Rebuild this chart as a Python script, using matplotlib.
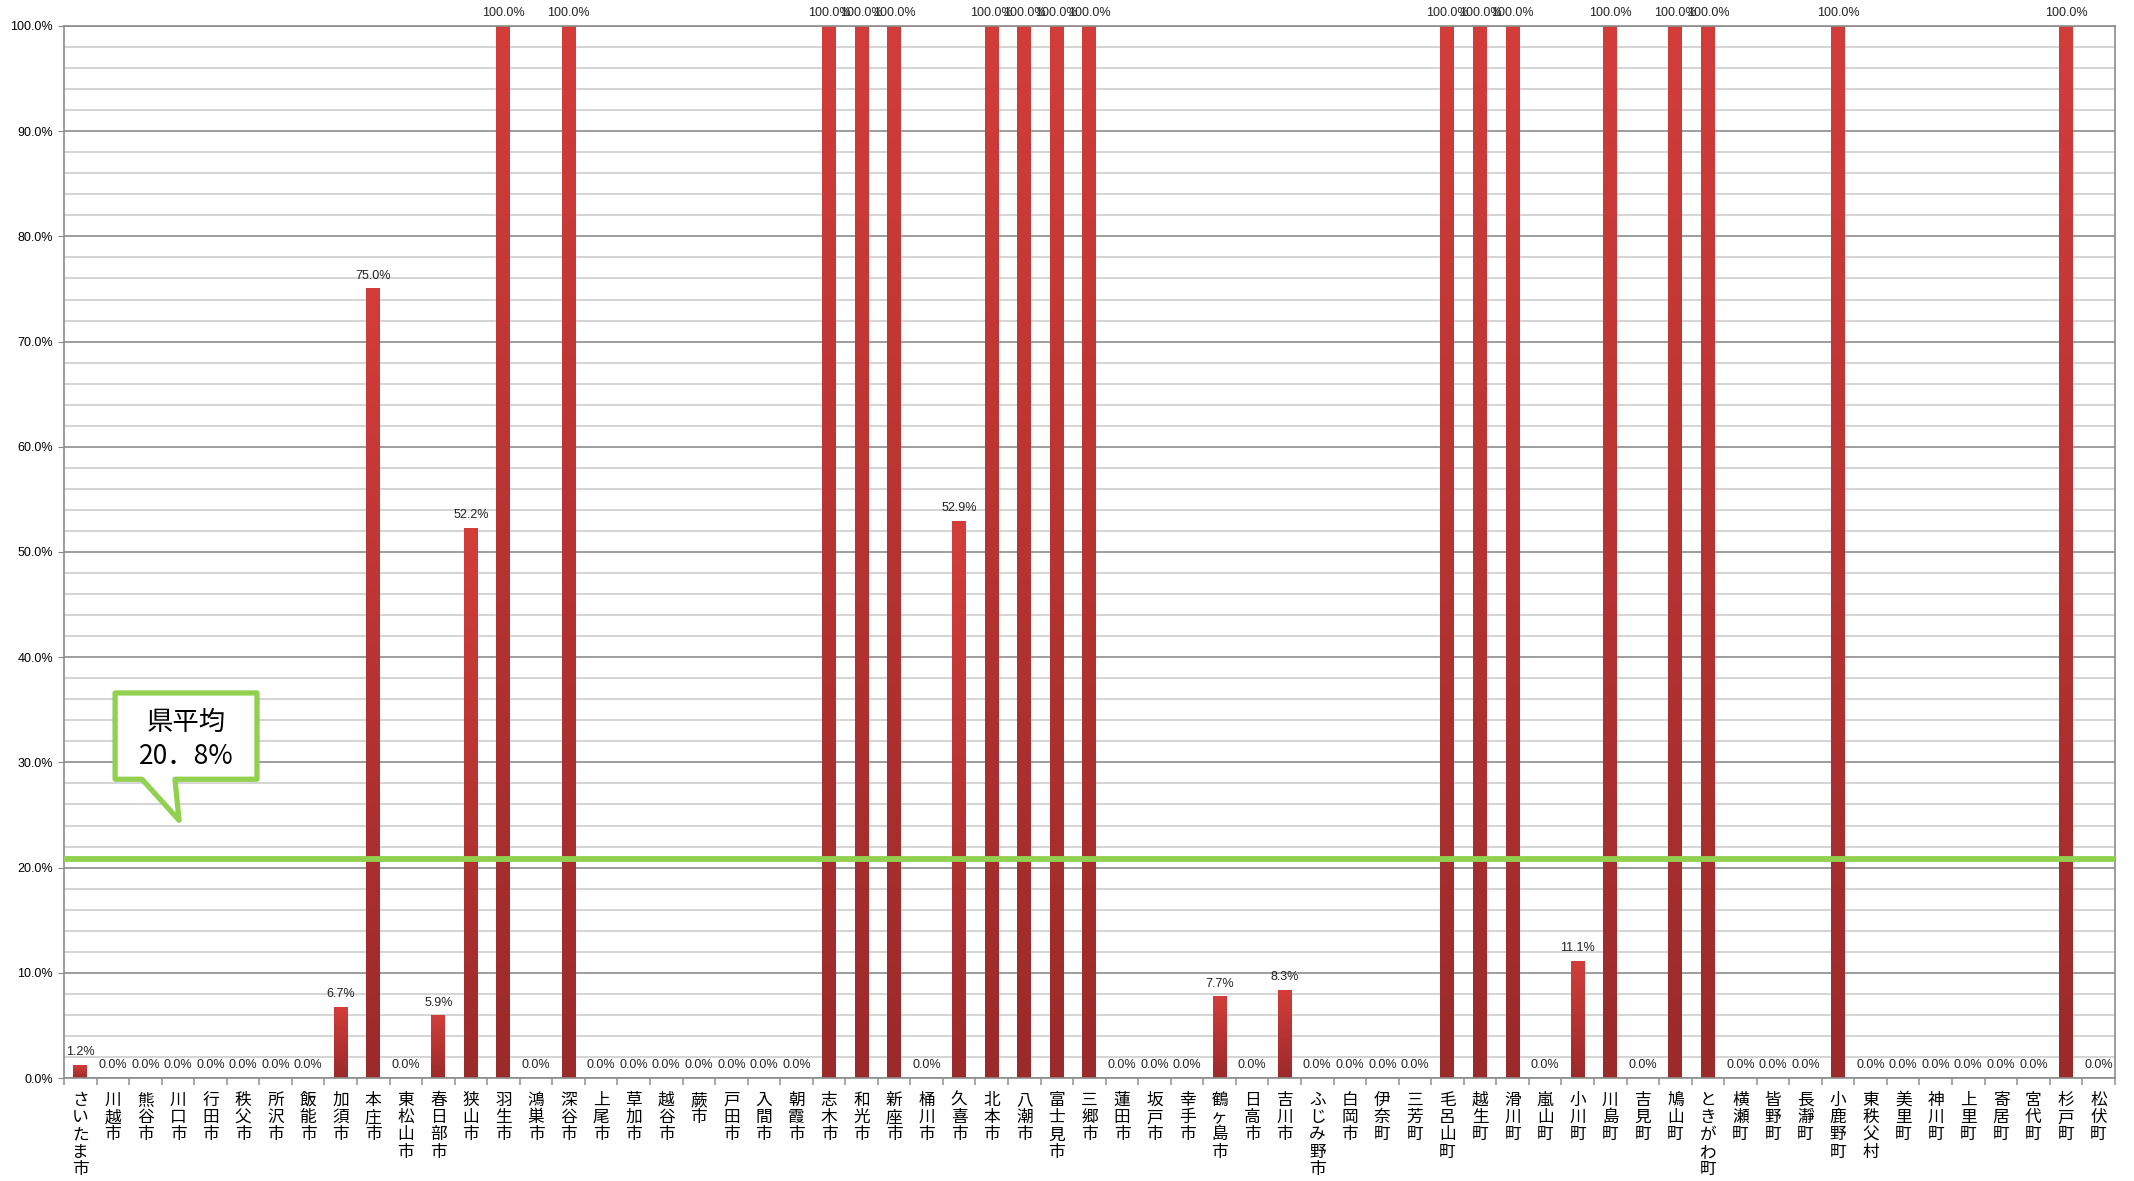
import matplotlib
matplotlib.use("Agg")
import matplotlib.pyplot as plt
import numpy as np
from matplotlib.colors import LinearSegmentedColormap
from matplotlib.patches import Polygon
from matplotlib.ticker import MultipleLocator, FixedLocator, PercentFormatter

plt.rcParams['font.family'] = ['Noto Sans CJK JP', 'DejaVu Sans']

cities = ["さいたま市", "川越市", "熊谷市", "川口市", "行田市", "秩父市", "所沢市", "飯能市",
          "加須市", "本庄市", "東松山市", "春日部市", "狭山市", "羽生市", "鴻巣市", "深谷市",
          "上尾市", "草加市", "越谷市", "蕨市", "戸田市", "入間市", "朝霞市", "志木市",
          "和光市", "新座市", "桶川市", "久喜市", "北本市", "八潮市", "富士見市", "三郷市",
          "蓮田市", "坂戸市", "幸手市", "鶴ヶ島市", "日高市", "吉川市", "ふじみ野市", "白岡市",
          "伊奈町", "三芳町", "毛呂山町", "越生町", "滑川町", "嵐山町", "小川町", "川島町",
          "吉見町", "鳩山町", "ときがわ町", "横瀬町", "皆野町", "長瀞町", "小鹿野町", "東秩父村",
          "美里町", "神川町", "上里町", "寄居町", "宮代町", "杉戸町", "松伏町"]

rates = [1.2, 0.0, 0.0, 0.0, 0.0, 0.0, 0.0, 0.0,
         6.7, 75.0, 0.0, 5.9, 52.2, 100.0, 0.0, 100.0,
         0.0, 0.0, 0.0, 0.0, 0.0, 0.0, 0.0, 100.0,
         100.0, 100.0, 0.0, 52.9, 100.0, 100.0, 100.0, 100.0,
         0.0, 0.0, 0.0, 7.7, 0.0, 8.3, 0.0, 0.0,
         0.0, 0.0, 100.0, 100.0, 100.0, 0.0, 11.1, 100.0,
         0.0, 100.0, 100.0, 0.0, 0.0, 0.0, 100.0, 0.0,
         0.0, 0.0, 0.0, 0.0, 0.0, 100.0, 0.0]

pref_avg = 20.8

fig = plt.figure(figsize=(21.34, 11.81), dpi=100)
ax = fig.add_axes([0.030, 0.0872, 0.961, 0.8908])

x = np.arange(len(cities))
bar_w = 0.43
bars = ax.bar(x, rates, width=bar_w, color="none", edgecolor="none", zorder=2)

# red gradient, bright at top, dark at bottom
cmap = LinearSegmentedColormap.from_list("redgrad", ["#9b2a2a", "#d23d3a"])
grad = np.linspace(0, 1, 256).reshape(-1, 1)
for b in bars:
    h = b.get_height()
    if h > 0:
        x0 = b.get_x()
        ax.imshow(grad, extent=[x0, x0 + bar_w, 0, h], origin="lower", aspect="auto",
                  cmap=cmap, zorder=2, interpolation="bilinear")

for xi, v in zip(x, rates):
    ax.text(xi, v + 0.7, f"{v:.1f}%", ha="center", va="bottom", fontsize=9,
            family="Liberation Sans", color="#222222", clip_on=False, zorder=4)

ax.set_xlim(-0.5, len(cities) - 0.5)
ax.set_ylim(0, 100)

# gridlines
ax.yaxis.set_major_locator(MultipleLocator(10))
ax.yaxis.set_minor_locator(MultipleLocator(2))
ax.yaxis.set_major_formatter(PercentFormatter(decimals=1))
ax.grid(axis="y", which="minor", color="#d4d4d4", linewidth=1.4, zorder=0.5)
ax.grid(axis="y", which="major", color="#8c8c8c", linewidth=1.2, zorder=0.6)
ax.set_axisbelow(True)
ax.tick_params(axis="y", which="major", labelsize=9, length=4, color="#888888", pad=4)
ax.tick_params(axis="y", which="minor", length=0)
for lab in ax.get_yticklabels():
    lab.set_family("Liberation Sans")

# category labels, written vertically
ax.set_xticks(x)
ax.set_xticklabels(["\n".join(c) for c in cities], fontsize=12, linespacing=1.02,
                   va="top")
ax.tick_params(axis="x", which="major", length=0, pad=10)
ax.xaxis.set_minor_locator(FixedLocator(np.arange(-0.5, len(cities), 1.0)))
ax.tick_params(axis="x", which="minor", length=5, color="#999999", width=1.2)

for s in ax.spines.values():
    s.set_color("#8c8c8c")
    s.set_linewidth(1.2)

# prefecture average line
ax.axhline(pref_avg, color="#92d050", linewidth=4.2, zorder=3)

# speech-bubble callout
bubble = [(0.0249, 0.366), (0.0941, 0.366), (0.0941, 0.284), (0.0541, 0.284),
          (0.0561, 0.245), (0.0380, 0.284), (0.0249, 0.284)]
ax.add_patch(Polygon(bubble, closed=True, transform=ax.transAxes, facecolor="white",
                     edgecolor="#92d050", linewidth=3.8, joinstyle="round", zorder=5))
ax.text(0.0595, 0.338, "県平均", transform=ax.transAxes, ha="center", va="center",
        fontsize=19, zorder=6)
ax.text(0.0595, 0.306, "20．8%", transform=ax.transAxes, ha="center", va="center",
        fontsize=19, zorder=6)

fig.savefig("out.png", dpi=100, facecolor="white")
